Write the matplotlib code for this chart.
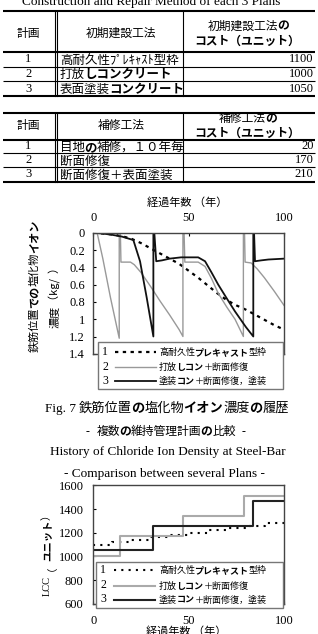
import matplotlib
matplotlib.use('Agg')
import matplotlib.pyplot as plt
from matplotlib.patches import Rectangle

W, H = 318, 634
JP = ['Noto Sans CJK JP', 'DejaVu Sans']
SERIF = ['Liberation Serif', 'Noto Sans CJK JP', 'DejaVu Sans']
plt.rcParams['font.family'] = SERIF

# ---- tables (text pieces: n = normal, b = bold kana, s = serif)
plans = ['1', '2', '3']
init_methods = [[('高耐久性ﾌﾟﾚｷｬｽﾄ型枠', 'n')],
                [('打放', 'n'), ('しコンクリート', 'b')],
                [('表面塗装', 'n'), ('コンクリート', 'b')]]
init_costs = [1100, 1000, 1050]
repair_methods = [[('目地', 'n'), ('の', 'b'), ('補修，１０年毎', 'n')],
                  [('断面修復', 'n')],
                  [('断面修復＋表面塗装', 'n')]]
repair_costs = [20, 170, 210]

# ---- chloride density at steel bar (years / kg per m3)
cl_year1 = [0, 10, 15, 20, 25, 30, 35, 40, 45, 50, 55, 60, 65, 70, 75, 80, 85, 90, 95, 100]
cl_val1 = [0, 0.02, 0.04, 0.07, 0.12, 0.18, 0.24, 0.30, 0.36, 0.44, 0.52, 0.61, 0.70, 0.78,
           0.84, 0.89, 0.95, 1.01, 1.07, 1.12]
cl_year2 = [0, 2, 5, 9, 13.6, 13.6, 14.2, 14.5, 19.5, 21.5, 25, 30, 35, 40, 45, 47,
            47, 47.6, 48, 55, 58.6, 62, 65.5, 70, 74.3, 78.7,
            78.7, 79.3, 79.6, 82.8, 86, 89.7, 95, 100]
cl_val2 = [0, 0, 0.3, 0.75, 1.22, 0, 0, 0.34, 0.34, 0.37, 0.46, 0.62, 0.79, 0.95, 1.12, 1.2,
           0, 0, 0.34, 0.34, 0.39, 0.53, 0.70, 0.86, 1.0, 1.2,
           0, 0, 0.34, 0.35, 0.42, 0.52, 0.68, 0.84]
cl_year3 = [0, 5, 10, 15, 21, 24.5, 28, 31.5, 31.5, 32, 33, 36, 40, 46, 55, 58.6, 62, 65.5,
            70, 74.3, 80, 83.9, 83.9, 84.3, 84.8, 88, 91.8, 100]
cl_val3 = [0, 0.01, 0.025, 0.045, 0.085, 0.33, 0.75, 1.2, 0, 0, 0.33, 0.32, 0.30, 0.285,
           0.285, 0.33, 0.46, 0.60, 0.76, 0.91, 1.09, 1.2, 0, 0, 0.33, 0.32, 0.31, 0.30]

# ---- LCC (unit)
lcc_year1 = [0, 10, 20, 30, 40, 50, 60, 70, 80, 90, 100]
lcc_val1 = [1100, 1120, 1140, 1160, 1180, 1200, 1220, 1240, 1260, 1280, 1280]
lcc_year2 = [0, 14, 47, 79, 100]
lcc_val2 = [1000, 1170, 1340, 1510, 1510]
lcc_year3 = [0, 31.5, 84, 100]
lcc_val3 = [1050, 1260, 1470, 1470]

legend_labels = [[('高耐久性', 'n'), ('プレキャスト', 'b'), ('型枠', 'n')],
                 [('打放', 'n'), ('しコン', 'b'), ('＋断面修復', 'n')],
                 [('塗装', 'n'), ('コン', 'b'), ('＋断面修復，塗装', 'n')]]
year_ticks = [0, 50, 100]
cl_ticks = [0, 0.2, 0.4, 0.6, 0.8, 1, 1.2, 1.4]
lcc_ticks = [600, 800, 1000, 1200, 1400, 1600]

st1 = [dict(color='k', lw=1.6, ls=(0, (1.5, 2))),
       dict(color='#999999', lw=1.0),
       dict(color='#111111', lw=1.3)]
st2 = [dict(color='k', lw=1.5, ls=(0, (1, 2.5))),
       dict(color='#aaaaaa', lw=1.5),
       dict(color='#222222', lw=1.5)]

fig = plt.figure(figsize=(W / 100, H / 100), dpi=100)

# chart 1
ax1 = fig.add_axes([93.3 / W, 1 - 353.8 / H, 190.7 / W, 121.1 / H])
for xs, ys, st in zip([cl_year1, cl_year2, cl_year3], [cl_val1, cl_val2, cl_val3], st1):
    ax1.plot(xs, ys, **st)
ax1.set_xlim(0, 100)
ax1.set_ylim(1.4, 0)
ax1.xaxis.tick_top()
ax1.set_xticks(year_ticks)
ax1.set_yticks(cl_ticks)
ax1.set_yticklabels([f'{v:g}' for v in cl_ticks])
ax1.tick_params(axis='x', direction='in', length=2.5, labelsize=9, pad=6.5)
ax1.tick_params(axis='y', direction='in', length=2.5, labelsize=9, pad=6)

# chart 2
ax2 = fig.add_axes([93.3 / W, 1 - 603.8 / H, 190.7 / W, 118.5 / H])
for xs, ys, st in zip([lcc_year1, lcc_year2, lcc_year3], [lcc_val1, lcc_val2, lcc_val3], st2):
    ax2.plot(xs, ys, drawstyle='steps-post', **st)
ax2.set_xlim(0, 100)
ax2.set_ylim(600, 1600)
ax2.set_xticks(year_ticks)
ax2.set_yticks(lcc_ticks)
ax2.tick_params(axis='x', direction='in', length=2.5, labelsize=9, pad=8)
ax2.tick_params(axis='y', direction='in', length=2.5, labelsize=9, pad=7)

for ax in (ax1, ax2):
    for s in ax.spines.values():
        s.set_color('#444444')
        s.set_linewidth(1.0)

# overlay in pixel coordinates for tables, captions, legends
bg = fig.add_axes([0, 0, 1, 1])
bg.set_xlim(0, W)
bg.set_ylim(H, 0)
bg.axis('off')
bg.set_zorder(5)
bg.patch.set_alpha(0)
rend = fig.canvas.get_renderer()


def adv(s, fam, wt, size):
    # advance width of s: measure it between two bars
    t = bg.text(0, 0, '|' + s + '|', fontsize=size, family=fam, weight=wt)
    t2 = bg.text(0, 0, '||', fontsize=size, family=fam, weight=wt)
    w = t.get_window_extent(rend).width - t2.get_window_extent(rend).width
    t.remove()
    t2.remove()
    return w


def rich(x, y, parts, size, anchor='center', rot=False):
    em = size * 100 / 72
    items = []
    for s, kind in parts:
        fam = SERIF if kind == 's' else JP
        wt = 'bold' if kind == 'b' else 'normal'
        if rot:
            t = bg.text(0, 0, s, fontsize=size, family=fam, weight=wt, rotation=90,
                        ha='center', va='bottom')
        else:
            t = bg.text(0, 0, s, fontsize=size, family=fam, weight=wt, ha='left', va='baseline')
        items.append([t, adv(s, fam, wt, size), 0.0])
    # pull bold kana a little closer to what comes before
    for i in range(1, len(items)):
        if parts[i][1] == 'b':
            items[i][2] = -0.06 * em
    total = sum(e + k for _, e, k in items)
    pos = {'start': 0, 'center': -total / 2, 'end': -total}[anchor]
    base = y + 0.37 * em
    for t, e, k in items:
        pos += k
        if rot:
            t.set_position((x, y - pos))
        else:
            t.set_position((x + pos, base))
        pos += e


def hline(y, lw):
    bg.plot([3, 315], [y, y], color='k', lw=lw, solid_capstyle='butt')


def table(top, hb, rows, bottom, head_y, head2, names, costs, ttl):
    hline(top, 1.5)
    hline(hb, 1.5)
    for r in rows[1:]:
        hline(r, 0.8)
    hline(bottom, 1.5)
    for xv in (54.5, 57.3, 183):
        bg.plot([xv, xv], [top, bottom], color='k', lw=0.8)
    rich(28.5, head_y, [('計画', 'n')], 8.5)
    rich(121, head_y, [(ttl, 'n')], 8.5)
    rich(248, head2[0], [(ttl, 'n'), ('の', 'b')], 8.5)
    rich(247, head2[1], [('コスト（ユニット）', 'b')], 8.5)
    edges = [hb] + rows[1:] + [bottom]
    for i in range(3):
        yc = (edges[i] + edges[i + 1]) / 2
        bg.text(28.5, yc, plans[i], ha='center', va='center', fontsize=9, family=SERIF)
        rich(60, yc, names[i], 9, anchor='start')
        bg.text(313.5, yc, str(costs[i]), ha='right', va='center', fontsize=9, family=SERIF)


bg.text(151.5, 5.5, 'Construction and Repair Method of each 3 Plans', ha='center',
        va='baseline', fontsize=9.5, family=SERIF)
table(11, 52, [52, 66.5, 81], 96, 32.7, (25, 40.5), init_methods, init_costs, '初期建設工法')
table(113.3, 139.5, [139.5, 153, 167], 181.5, 125, (118, 132.5), repair_methods, repair_costs, '補修工法')

# axis titles
rich(186.7, 201.7, [('経過年数 （年）', 'n')], 8)
rich(34, 352, [('鉄筋位置', 'n'), ('での', 'b'), ('塩化物', 'n'), ('イオン', 'b')], 8,
     anchor='start', rot=True)
rich(55, 328, [('濃度', 'n'), ('（kg/  ）', 'n')], 8, anchor='start', rot=True)
rich(47, 596, [('LCC', 's'), ('  ', 's'), ('（', 'n'), ('ユニット', 'b'), ('）', 'n')], 7.5,
     anchor='start', rot=True)
bg.text(186, 626.5, '経過年数 （年）', ha='center', va='top', fontsize=8, family=JP)


def legend(x0, y0, x1, y1, rows, nx, lx, tx, styles):
    bg.add_patch(Rectangle((x0, y0), x1 - x0, y1 - y0, facecolor='white',
                           edgecolor='#777777', lw=1.0))
    for i, yy in enumerate(rows):
        bg.text(nx, yy, plans[i], ha='center', va='center', fontsize=8.5, family=SERIF)
        bg.plot(lx, [yy, yy], **styles[i])
        rich(tx, yy, legend_labels[i], 6.5, anchor='start')


legend(98, 342, 283, 389, [352, 366.5, 381], 105, [115, 156], 159, st1)
legend(96, 562, 283, 607.5, [570, 585.5, 599.5], 103, [114, 155], 159, st2)

# captions
rich(166.7, 406.7, [('Fig. 7 ', 's'), ('鉄筋位置', 'n'), ('の', 'b'), ('塩化物', 'n'),
                    ('イオン', 'b'), ('濃度', 'n'), ('の', 'b'), ('履歴', 'n')], 9.5)
rich(166, 431, [('-  ', 's'), ('複数', 'n'), ('の', 'b'), ('維持管理計画', 'n'), ('の', 'b'),
                ('比較', 'n'), ('  -', 's')], 8.5)
rich(167.5, 450, [('History of Chloride Ion Density at Steel-Bar', 's')], 9.5)
rich(164, 471.7, [('- Comparison between several Plans -', 's')], 9.5)

fig.savefig('out.png', dpi=100)
